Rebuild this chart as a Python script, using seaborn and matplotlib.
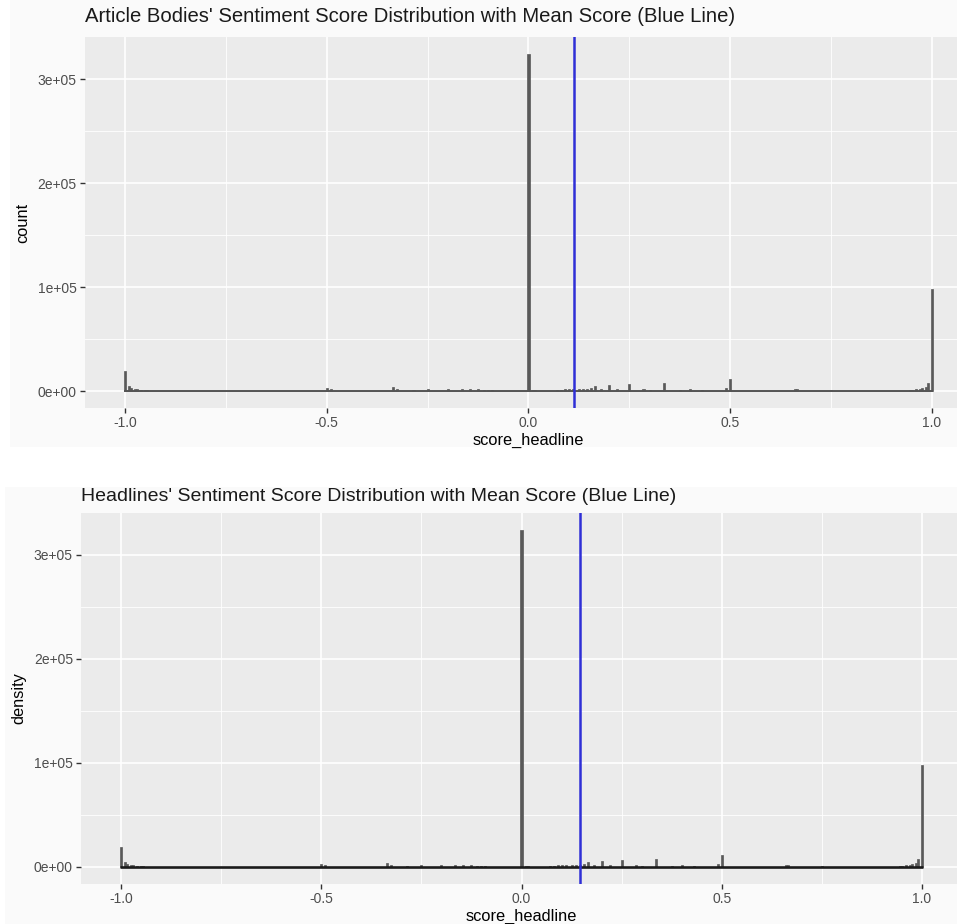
import numpy as np
import pandas as pd
import matplotlib
matplotlib.use("Agg")
import matplotlib.pyplot as plt
import seaborn as sns
from matplotlib.patches import Rectangle

# ---------------- data ----------------
scores = [-1.0, -0.992, -0.984, -0.976, -0.968, -0.960, -0.952, -0.944,
          -0.5, -0.492,
          -0.3333, -0.325, -0.2857, -0.25, -0.2, -0.1667, -0.1429, -0.125, -0.1111, -0.1, -0.0909,
          0.0, 0.008, 0.016,
          0.0714, 0.08, 0.0909, 0.1, 0.1111, 0.125, 0.1333, 0.1429, 0.1538, 0.1667, 0.1818,
          0.2, 0.2222, 0.25, 0.2857, 0.3, 0.3333, 0.375, 0.4, 0.4286,
          0.492, 0.5, 0.66, 0.6667, 0.75,
          0.944, 0.952, 0.960, 0.968, 0.976, 0.984, 0.992, 1.0]
counts = [19000, 4500, 3000, 2000, 1500, 1200, 800, 500,
          3300, 1500,
          3500, 1500, 1000, 2200, 1600, 2200, 1500, 1500, 1200, 1200, 800,
          324500, 1200, 800,
          1000, 1200, 1500, 1500, 2000, 2000, 2000, 2200, 2500, 4800, 1500,
          5500, 1500, 7000, 1500, 1200, 8000, 1000, 1500, 1000,
          2500, 11800, 1500, 2000, 1200,
          600, 1000, 1500, 2000, 2500, 4000, 7500, 98500]
mean_bodies = 0.114
mean_headlines = 0.147

titles = ["Article Bodies' Sentiment Score Distribution with Mean Score (Blue Line)",
          "Headlines' Sentiment Score Distribution with Mean Score (Blue Line)"]
ylabels = ["count", "density"]
xlabel = "score_headline"
xticks = [-1.0, -0.5, 0.0, 0.5, 1.0]
xticklabels = ["-1.0", "-0.5", "0.0", "0.5", "1.0"]
yticks = [0, 100000, 200000, 300000]
yticklabels = ["0e+00", "1e+05", "2e+05", "3e+05"]

df = pd.DataFrame({"score": scores, "n": counts})

W, H = 957, 924
fig = plt.figure(figsize=(W / 100, H / 100), dpi=100)
fig.patch.set_facecolor("white")
plt.rcParams['font.family'] = ['Liberation Sans', 'DejaVu Sans']

# screenshot backgrounds
fig.patches.append(Rectangle((10 / W, 1 - 447 / H), 1, 447 / H, transform=fig.transFigure,
                             facecolor="#fafafa", edgecolor="none", zorder=-10))
fig.patches.append(Rectangle((5 / W, 0), 1, (H - 487) / H, transform=fig.transFigure,
                             facecolor="#fafafa", edgecolor="none", zorder=-10))

# panel geometry (pixels): x of -1 and 1, y of 0 and of 1e5
panels = [dict(xm1=125, xp1=932, y0=391, y1=287, mean=mean_bodies, edge="#555555", lw=1.4,
               tsize=14.6, tpad=11),
          dict(xm1=121, xp1=922, y0=867, y1=763, mean=mean_headlines, edge="#1a1a1a", lw=1.9,
               tsize=14.0, tpad=9)]

XLIM = (-1.1, 1.1)
YLIM = (-16200, 340200)
BW = 0.005
BR = (-1.0025, 1.0025)

for i, p in enumerate(panels):
    sx = (p["xp1"] - p["xm1"]) / 2.0
    sy = (p["y0"] - p["y1"]) / 100000.0
    left = p["xm1"] + (XLIM[0] + 1) * sx
    width = (XLIM[1] - XLIM[0]) * sx
    bottom_px = p["y0"] - YLIM[0] * sy
    height = (YLIM[1] - YLIM[0]) * sy
    ax = fig.add_axes([left / W, 1 - bottom_px / H, width / W, height / H])
    ax.set_facecolor("#EBEBEB")
    for s in ax.spines.values():
        s.set_visible(False)
    ax.set_axisbelow(True)

    sns.histplot(data=df, x="score", weights="n", binwidth=BW, binrange=BR,
                 color="#595959", alpha=1, edgecolor="#595959", linewidth=0.5, ax=ax)
    # baseline of the empty bins
    ax.hlines(0, BR[0], BR[1], color=p["edge"], lw=p["lw"], zorder=3)
    ax.axvline(p["mean"], color="#2f2fd6", lw=1.8, zorder=5)

    ax.set_xlim(*XLIM)
    ax.set_ylim(*YLIM)
    ax.set_xticks(xticks)
    ax.set_xticklabels(xticklabels)
    ax.set_yticks(yticks)
    ax.set_yticklabels(yticklabels)
    ax.set_xticks([-0.75, -0.25, 0.25, 0.75], minor=True)
    ax.set_yticks([50000, 150000, 250000], minor=True)
    ax.grid(which="major", color="white", lw=1.2)
    ax.grid(which="minor", color="white", lw=0.6)
    ax.tick_params(which="major", length=3.8, width=1, color="#333333",
                   labelcolor="#4D4D4D", labelsize=10, pad=2)
    ax.tick_params(which="minor", length=0)
    ax.set_xlabel(xlabel, fontsize=11.8, color="black", labelpad=2)
    ax.set_ylabel(ylabels[i], fontsize=11.8, color="black", labelpad=5)
    ax.set_title(titles[i], loc="left", fontsize=p["tsize"], color="#1a1a1a", pad=p["tpad"])

fig.savefig("out.png", dpi=100)
